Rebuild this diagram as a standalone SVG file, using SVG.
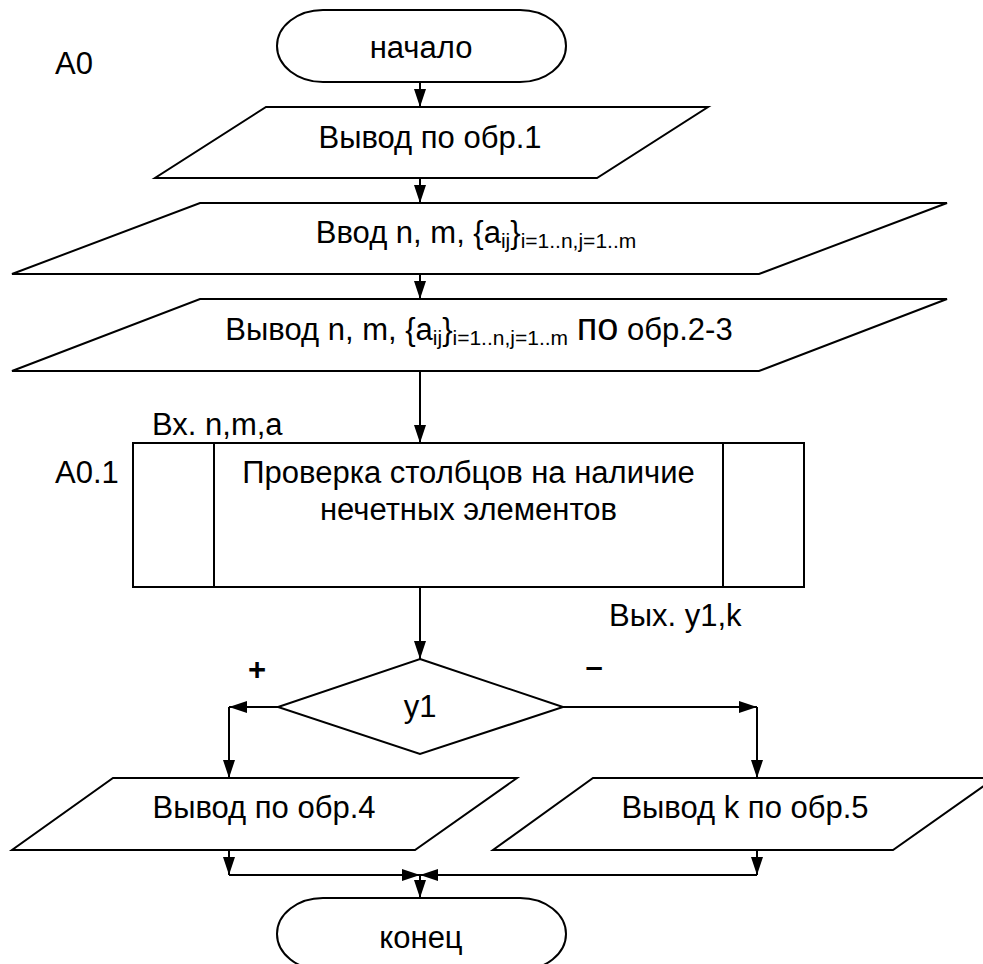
<svg xmlns="http://www.w3.org/2000/svg" width="983" height="964" viewBox="0 0 983 964">
<style>
  .shape { fill: #ffffff; stroke: #000000; stroke-width: 2; }
  .line { fill: none; stroke: #000000; stroke-width: 2; marker-end: url(#arrow); }
  .plain { fill: none; stroke: #000000; stroke-width: 2; }
  text { font-family: "Liberation Sans", Arial, sans-serif; font-size: 31px; fill: #000000; }
  .c { text-anchor: middle; }
  .sub { font-size: 21px; }
</style>
<defs>
  <marker id="arrow" markerUnits="userSpaceOnUse" markerWidth="18" markerHeight="12" refX="18" refY="6" orient="auto">
    <path d="M0,0 L18,6 L0,12 Z" fill="#000000"/>
  </marker>
</defs>
<rect width="983" height="964" fill="#ffffff"/>

<g id="connectors">
  <path class="line" d="M420,82 L420,107"/>
  <path class="line" d="M420,178 L420,203"/>
  <path class="line" d="M420,274 L420,299"/>
  <path class="line" d="M420,371 L420,443"/>
  <path class="line" d="M420,587 L420,659"/>
  <path class="line" d="M278,707 L229,707"/>
  <path class="line" d="M229,707 L229,778"/>
  <path class="line" d="M563,707 L757,707"/>
  <path class="line" d="M757,707 L757,778"/>
  <path class="line" d="M229,850 L229,875"/>
  <path class="line" d="M757,850 L757,875"/>
  <path class="line" d="M229,875 L420,875"/>
  <path class="line" d="M757,875 L420,875"/>
  <path class="line" d="M420,875 L420,898"/>
</g>

<g id="label-A0"><text x="55" y="74">A0</text></g>

<g id="start">
  <rect class="shape" x="277" y="10" width="289" height="72" rx="46" ry="36"/>
  <text class="c" x="421" y="58">начало</text>
</g>

<g id="out1">
  <polygon class="shape" points="266,107 708,107 597,178 155,178"/>
  <text class="c" x="430" y="148">Вывод по обр.1</text>
</g>

<g id="input">
  <polygon class="shape" points="200,203 947,203 759,274 12,274"/>
  <text class="c" x="476" y="243">Ввод n, m, {a<tspan class="sub" dy="5">ij</tspan><tspan dy="-5">}</tspan><tspan class="sub" dy="5">i=1..n,j=1..m</tspan></text>
</g>

<g id="out23">
  <polygon class="shape" points="200,299 947,299 759,371 12,371"/>
  <text class="c" x="479" y="340">Вывод n, m, {a<tspan class="sub" dy="5">ij</tspan><tspan dy="-5">}</tspan><tspan class="sub" dy="5">i=1..n,j=1..m</tspan><tspan dy="-5"> </tspan><tspan font-size="38">по</tspan><tspan> обр.2-3</tspan></text>
</g>

<g id="sub-A0.1">
  <rect class="shape" x="133" y="443" width="671" height="144"/>
  <line class="plain" x1="214" y1="443" x2="214" y2="587"/>
  <line class="plain" x1="723" y1="443" x2="723" y2="587"/>
  <text class="c" x="468.5" y="483">Проверка столбцов на наличие</text>
  <text class="c" x="468.5" y="520">нечетных элементов</text>
  <text x="152" y="435">Вх. n,m,a</text>
  <text x="55" y="483">A0.1</text>
  <text x="609" y="626">Вых. y1,k</text>
</g>

<g id="decision">
  <polygon class="shape" points="420,659 563,707 420,754 278,707"/>
  <text class="c" x="420" y="717">y1</text>
  <text class="c" x="257" y="680" font-weight="bold">+</text>
  <text class="c" x="594" y="677" font-weight="bold">–</text>
</g>

<g id="out4">
  <polygon class="shape" points="113,778 517,778 415,850 12,850"/>
  <text class="c" x="264" y="818">Вывод по обр.4</text>
</g>

<g id="out5">
  <polygon class="shape" points="593,778 995,778 893,850 493,850"/>
  <text class="c" x="745" y="818">Вывод k по обр.5</text>
</g>

<g id="end">
  <rect class="shape" x="277" y="898" width="289" height="72" rx="46" ry="36"/>
  <text class="c" x="421" y="948">конец</text>
</g>
</svg>
